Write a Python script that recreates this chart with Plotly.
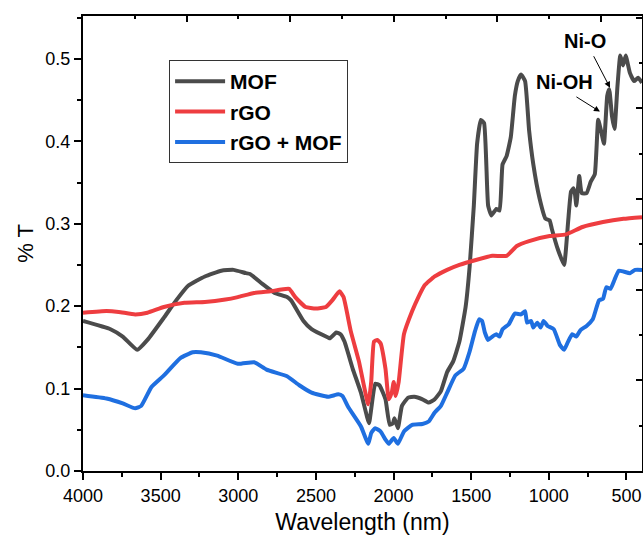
import plotly.graph_objects as go

# ---------------- data ----------------
mof_x = [4000, 3823, 3744, 3651, 3585, 3479, 3400, 3321, 3215, 3109, 3030, 2951, 2924, 2845,
         2766, 2686, 2660, 2580, 2528, 2422, 2409, 2369, 2342, 2316, 2263, 2210, 2158, 2144,
         2118, 2091, 2052, 2025, 2004, 1994, 1972, 1946, 1906, 1867, 1814, 1774, 1735, 1695,
         1655, 1616, 1576, 1536, 1510, 1483, 1462, 1438, 1417, 1391, 1370, 1338, 1317, 1298,
         1272, 1245, 1219, 1200, 1179, 1153, 1127, 1100, 1060, 1021, 995, 981, 942, 902, 876,
         857, 841, 831, 823, 804, 788, 757, 730, 704, 682, 664, 645, 624, 611, 593, 577, 558,
         540, 522, 505, 478, 451, 425, 400]
mof_y = [0.182, 0.172, 0.163, 0.147, 0.159, 0.186, 0.207, 0.225, 0.236, 0.243, 0.244, 0.240,
         0.239, 0.227, 0.216, 0.211, 0.207, 0.182, 0.172, 0.162, 0.161, 0.168, 0.166, 0.157,
         0.124, 0.095, 0.058, 0.075, 0.106, 0.104, 0.087, 0.056, 0.058, 0.064, 0.052, 0.079,
         0.089, 0.090, 0.087, 0.083, 0.087, 0.097, 0.120, 0.133, 0.157, 0.199, 0.248, 0.322,
         0.397, 0.426, 0.422, 0.322, 0.310, 0.318, 0.316, 0.372, 0.382, 0.405, 0.455, 0.473,
         0.481, 0.473, 0.413, 0.372, 0.331, 0.306, 0.304, 0.294, 0.269, 0.250, 0.302, 0.339,
         0.343, 0.335, 0.322, 0.358, 0.337, 0.337, 0.351, 0.360, 0.426, 0.413, 0.397, 0.455,
         0.463, 0.430, 0.415, 0.467, 0.504, 0.492, 0.504, 0.483, 0.473, 0.477, 0.471]

rgo_x = [4000, 3849, 3770, 3664, 3585, 3479, 3347, 3215, 3083, 3003, 2898, 2792, 2673, 2633,
         2567, 2501, 2435, 2395, 2348, 2322, 2276, 2223, 2163, 2144, 2126, 2105, 2084, 2052,
         2031, 2012, 1999, 1986, 1967, 1933, 1880, 1840, 1801, 1735, 1655, 1576, 1470, 1364,
         1272, 1206, 1127, 995, 889, 783, 651, 519, 400]
rgo_y = [0.192, 0.194, 0.193, 0.190, 0.192, 0.199, 0.204, 0.205, 0.208, 0.211, 0.216, 0.218,
         0.221, 0.211, 0.199, 0.197, 0.199, 0.207, 0.218, 0.211, 0.170, 0.133, 0.081, 0.108,
         0.157, 0.159, 0.155, 0.124, 0.087, 0.095, 0.108, 0.091, 0.108, 0.166, 0.194, 0.211,
         0.225, 0.236, 0.244, 0.250, 0.256, 0.261, 0.261, 0.273, 0.279, 0.285, 0.287, 0.296,
         0.302, 0.306, 0.308]

mix_x = [4000, 3849, 3744, 3664, 3625, 3559, 3479, 3373, 3294, 3241, 3136, 3003, 2898, 2818,
         2686, 2607, 2528, 2422, 2356, 2329, 2290, 2210, 2163, 2144, 2118, 2084, 2052, 2031,
         1999, 1972, 1933, 1880, 1814, 1774, 1735, 1695, 1655, 1602, 1549, 1510, 1475, 1449,
         1430, 1412, 1391, 1364, 1338, 1317, 1298, 1258, 1219, 1179, 1153, 1140, 1114, 1100,
         1074, 1053, 1034, 1008, 968, 929, 902, 876, 849, 823, 796, 757, 717, 677, 651, 630,
         603, 577, 550, 519, 478, 444, 400]
mix_y = [0.092, 0.088, 0.082, 0.076, 0.079, 0.102, 0.116, 0.137, 0.144, 0.144, 0.140, 0.130,
         0.132, 0.123, 0.115, 0.104, 0.095, 0.090, 0.093, 0.091, 0.077, 0.054, 0.033, 0.046,
         0.052, 0.048, 0.038, 0.033, 0.040, 0.033, 0.048, 0.056, 0.057, 0.060, 0.071, 0.079,
         0.095, 0.116, 0.124, 0.145, 0.170, 0.184, 0.182, 0.168, 0.159, 0.163, 0.166, 0.163,
         0.172, 0.178, 0.191, 0.190, 0.194, 0.180, 0.182, 0.174, 0.180, 0.174, 0.182, 0.176,
         0.172, 0.153, 0.147, 0.157, 0.166, 0.163, 0.171, 0.176, 0.184, 0.207, 0.209, 0.223,
         0.221, 0.232, 0.243, 0.242, 0.240, 0.244, 0.244]

series_names = ["MOF", "rGO", "rGO + MOF"]
series_colors = ["#4b4b4b", "#ee3d40", "#1f6fe0"]

x_ticks = [4000, 3500, 3000, 2500, 2000, 1500, 1000, 500]
y_ticks = [0.0, 0.1, 0.2, 0.3, 0.4, 0.5]

labels = ["Ni-O", "Ni-OH"]
label_pos_x = [768, 898]
label_pos_y = [0.522, 0.472]
arrow_head_x = [606, 671]
arrow_head_y = [0.465, 0.436]
arrow_tail_x = [716, 832]
arrow_tail_y = [0.505, 0.455]

# ---------------- figure ----------------
FONT = "Liberation Sans, Arial, sans-serif"
fig = go.Figure()
for xs, ys, name, col in zip([mof_x, rgo_x, mix_x], [mof_y, rgo_y, mix_y], series_names, series_colors):
    fig.add_trace(go.Scatter(x=xs, y=ys, mode="lines", name=name,
                             line=dict(color=col, width=4, shape="spline", smoothing=0.4)))

# invisible trace to activate the decorative top/right tick axes
fig.add_trace(go.Scatter(x=[None], y=[None], xaxis="x2", yaxis="y2", showlegend=False, hoverinfo="skip"))

for txt, lx, ly in zip(labels, label_pos_x, label_pos_y):
    fig.add_annotation(x=lx, y=ly, text="<b>%s</b>" % txt, showarrow=False,
                       font=dict(family=FONT, size=20, color="black"))
for hx, hy, tx, ty in zip(arrow_head_x, arrow_head_y, arrow_tail_x, arrow_tail_y):
    fig.add_annotation(x=hx, y=hy, ax=tx, ay=ty, axref="x", ayref="y", text="",
                       showarrow=True, arrowhead=2, arrowsize=1.2, arrowwidth=1, arrowcolor="black")

axis_common = dict(showgrid=False, zeroline=False, showline=True, linecolor="black", linewidth=2,
                   mirror=True, ticks="outside", ticklen=7, tickwidth=1.5, tickcolor="black",
                   automargin=False,
                   tickfont=dict(family=FONT, size=18, color="black"))

fig.update_layout(
    width=643, height=535,
    margin=dict(l=83, r=1, t=16, b=64),
    paper_bgcolor="white", plot_bgcolor="white",
    showlegend=True,
    legend=dict(x=0.154, y=0.903, xanchor="left", yanchor="top",
                bordercolor="#333333", borderwidth=1, bgcolor="white",
                font=dict(family=FONT, size=21, color="black", weight="bold"),
                itemwidth=50, tracegroupgap=0),
    xaxis=dict(range=[4000, 400], tickvals=x_ticks, ticktext=[str(v) for v in x_ticks],
               minor=dict(dtick=250, tick0=0, ticks="outside", ticklen=4, tickwidth=1.5, tickcolor="black"),
               title=dict(text="Wavelength (nm)", font=dict(family=FONT, size=23, color="black"), standoff=26),
               **axis_common),
    yaxis=dict(range=[0, 0.552], tickvals=y_ticks, ticktext=["%.1f" % v for v in y_ticks],
               minor=dict(dtick=0.05, tick0=0, ticks="outside", ticklen=4, tickwidth=1.5, tickcolor="black"),
               title=dict(text="% T", font=dict(family=FONT, size=22, color="black"), standoff=6),
               **axis_common),
    xaxis2=dict(overlaying="x", side="top", range=[4000, 400], showgrid=False, zeroline=False,
                showticklabels=False, ticks="inside", ticklen=6, tickwidth=1.5, tickcolor="black",
                tickmode="linear", tick0=664, dtick=667.2,
                minor=dict(dtick=333.6, tick0=664, ticks="inside", ticklen=3, tickwidth=1.5, tickcolor="black")),
    yaxis2=dict(overlaying="y", side="right", range=[0, 0.552], showgrid=False, zeroline=False,
                showticklabels=False, ticks="inside", ticklen=6, tickwidth=1.5, tickcolor="black",
                tickmode="linear", tick0=0, dtick=0.11,
                minor=dict(dtick=0.055, tick0=0, ticks="inside", ticklen=3, tickwidth=1.5, tickcolor="black")),
)

fig.write_html("out.html")
